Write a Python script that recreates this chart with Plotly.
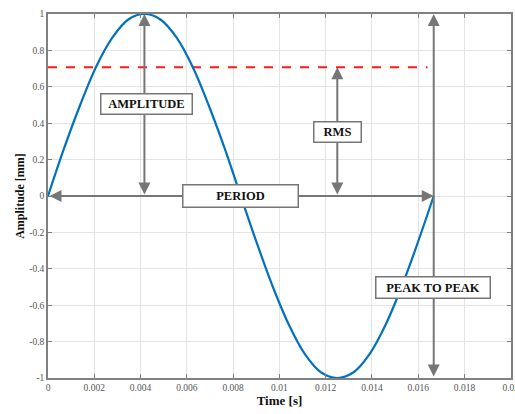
import plotly.graph_objects as go

time_s = [0, 0.00069, 0.00139, 0.00208, 0.00278, 0.00347, 0.00417, 0.00486, 0.00556,
          0.00625, 0.00694, 0.00764, 0.00833, 0.00903, 0.00972, 0.01042, 0.01111,
          0.01181, 0.0125, 0.01319, 0.01389, 0.01458, 0.01528, 0.01597, 0.01667]
amplitude_mm = [0, 0.26, 0.5, 0.71, 0.87, 0.97, 1.0, 0.97, 0.87,
                0.71, 0.5, 0.26, 0, -0.26, -0.5, -0.71, -0.87,
                -0.97, -1.0, -0.97, -0.87, -0.71, -0.5, -0.26, 0]

period = 0.01667
peak = 1.0
rms = 0.707
rms_line_end = 0.0164

x_ticks = [0, 0.002, 0.004, 0.006, 0.008, 0.01, 0.012, 0.014, 0.016, 0.018, 0.02]
x_tick_labels = ["0", "0.002", "0.004", "0.006", "0.008", "0.01", "0.012", "0.014", "0.016", "0.018", "0.02"]
y_ticks = [-1, -0.8, -0.6, -0.4, -0.2, 0, 0.2, 0.4, 0.6, 0.8, 1]
y_tick_labels = ["-1", "-0.8", "-0.6", "-0.4", "-0.2", "0", "0.2", "0.4", "0.6", "0.8", "1"]

SERIF = "Liberation Serif, Times New Roman, serif"
GRAY = "#767676"

fig = go.Figure()
fig.add_trace(go.Scatter(x=[0, rms_line_end], y=[rms, rms], mode="lines",
                         line=dict(color="#ff1a1a", width=2, dash="dash"),
                         hoverinfo="skip", showlegend=False))
fig.add_trace(go.Scatter(x=time_s, y=amplitude_mm, mode="lines",
                         line=dict(color="#0072BD", width=2.2, shape="spline", smoothing=1.0),
                         showlegend=False))

def arrow(x0, y0, x1, y1):
    fig.add_annotation(x=x1, y=y1, ax=x0, ay=y0, xref="x", yref="y", axref="x", ayref="y",
                       text="", showarrow=True, arrowhead=2, startarrowhead=2,
                       arrowside="end+start", arrowsize=1.2, startarrowsize=1.2,
                       arrowwidth=2, arrowcolor=GRAY, standoff=0, startstandoff=0)

arrow(period / 4, 0, period / 4, peak)          # amplitude
arrow(period * 3 / 4, 0, period * 3 / 4, rms)    # rms
arrow(0, 0, period, 0)                           # period
arrow(period, -peak, period, peak)               # peak to peak

def label(text, x, y, w, h):
    fig.add_annotation(x=x, y=y, xref="x", yref="y", text="<b>" + text + "</b>",
                       showarrow=False, width=w, height=h, bgcolor="white",
                       bordercolor=GRAY, borderwidth=1.5, borderpad=1,
                       font=dict(family=SERIF, size=12.5, color="#111111"))

label("AMPLITUDE", 0.00424, 0.505, 88, 17)
label("PERIOD", 0.00834, 0.0, 112, 19)
label("RMS", 0.0125, 0.35, 44, 17)
label("PEAK TO PEAK", 0.01665, -0.505, 111, 18)

fig.update_layout(
    width=515, height=414,
    margin=dict(l=48, r=4, t=14, b=36),
    paper_bgcolor="white", plot_bgcolor="white",
    font=dict(family=SERIF, size=9, color="#555555"),
    xaxis=dict(range=[0, 0.02001], tickvals=x_ticks, ticktext=x_tick_labels,
               automargin=False, ticklabeloverflow="allow",
               showgrid=True, gridcolor="#e4e4e4", gridwidth=1, zeroline=False,
               showline=True, linecolor="#808080", linewidth=1.5, mirror="ticks",
               ticks="inside", ticklen=4, tickcolor="#808080",
               tickfont=dict(family=SERIF, size=9.5, color="#555555"),
               title=dict(text="<b>Time [s]</b>", standoff=2,
                          font=dict(family=SERIF, size=13, color="#111111"))),
    yaxis=dict(range=[-1, 1], tickvals=y_ticks, ticktext=y_tick_labels,
               automargin=False,
               showgrid=True, gridcolor="#e4e4e4", gridwidth=1, zeroline=False,
               showline=True, linecolor="#808080", linewidth=1.5, mirror="ticks",
               ticks="inside", ticklen=4, tickcolor="#808080",
               tickfont=dict(family=SERIF, size=9.5, color="#555555"),
               title=dict(text="<b>Amplitude [mm]</b>", standoff=2,
                          font=dict(family=SERIF, size=12, color="#111111"))),
)

fig.write_html("out.html", config={"displayModeBar": False},
               post_script="document.body.style.margin='0';")
